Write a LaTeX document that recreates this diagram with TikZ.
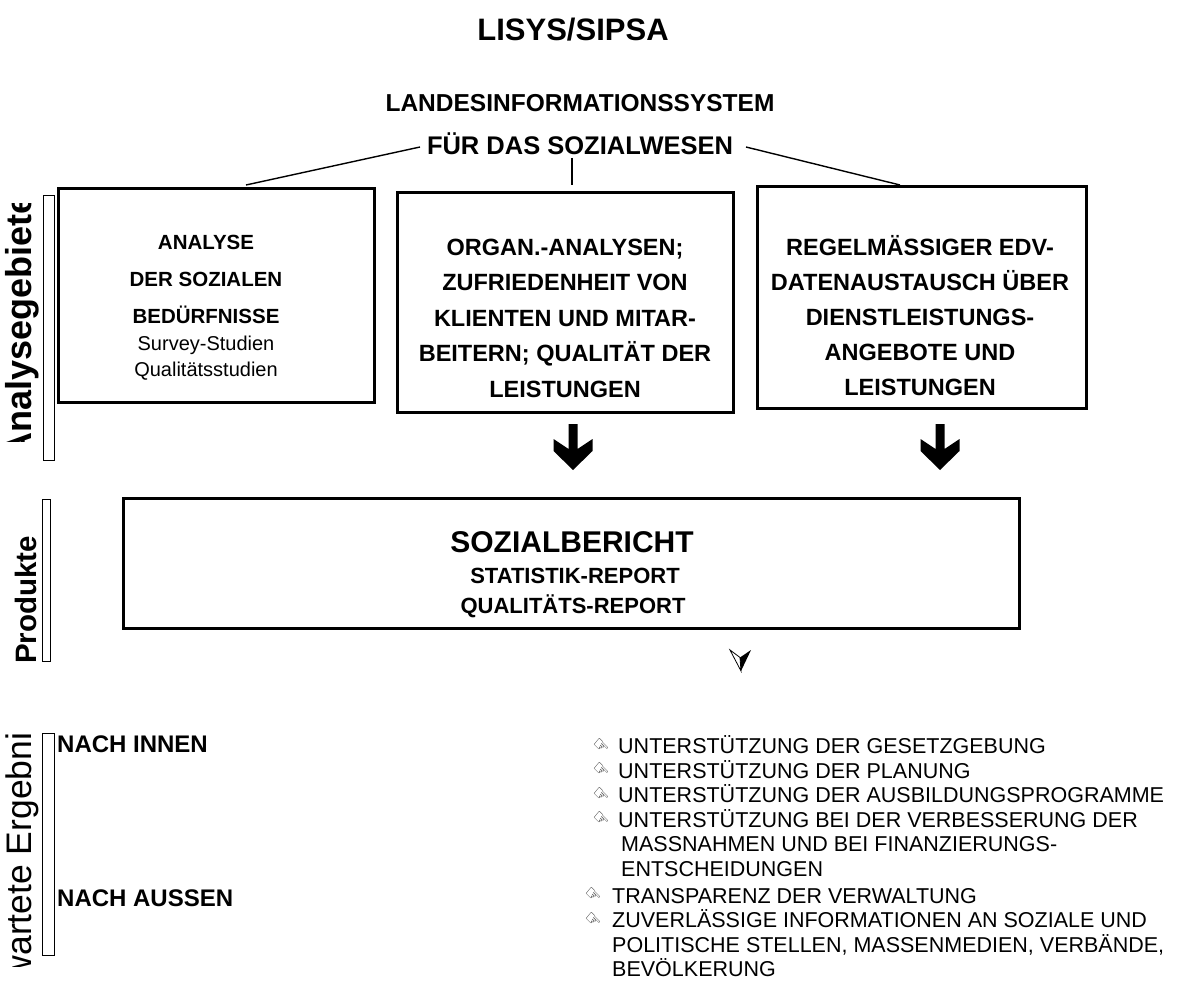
\documentclass[tikz,border=0pt]{standalone}
\usepackage{fontspec}
\setmainfont{Liberation Sans}
\newfontfamily\symfont{DejaVu Sans}
\begin{document}
\begin{tikzpicture}[x=1pt,y=-1pt,
  box/.style={draw,line width=2.6pt},
  thinrect/.style={draw,line width=1.2pt,inner sep=0pt},
  connector/.style={line width=1.4pt},
  boxa/.style={anchor=base,inner sep=0pt,font=\fontsize{20.5}{20.5}\selectfont\bfseries},
  boxs/.style={anchor=base,inner sep=0pt,font=\fontsize{20}{20}\selectfont},
  boxb/.style={anchor=base,inner sep=0pt,font=\fontsize{23.5}{23.5}\selectfont\bfseries},
  sidelabel/.style={rotate=90,anchor=base west,inner sep=0pt},
  listtext/.style={anchor=base west,inner sep=0pt,font=\fontsize{21.5}{21.5}\selectfont},
  headtext/.style={anchor=base west,inner sep=0pt,font=\fontsize{24}{24}\selectfont\bfseries},
  bullet/.style={anchor=center,inner sep=0pt,font=\fontsize{18}{18}\symfont}
]
\useasboundingbox (0,0) rectangle (1177,1008);
% Titles
\node[font=\fontsize{31}{31}\selectfont\bfseries,anchor=base] (t1) at (573,41) {LISYS/SIPSA};
\node[font=\fontsize{24.5}{24.5}\selectfont\bfseries,anchor=base] (t2) at (580,112) {LANDESINFORMATIONSSYSTEM};
\node[font=\fontsize{25.5}{25.5}\selectfont\bfseries,anchor=base] (t3) at (580,155) {FÜR DAS SOZIALWESEN};
\coordinate (c1) at (420,147);
\coordinate (c2) at (572,158);
\coordinate (c3) at (746,147);
% Boxes
\node[box,minimum width=316pt,minimum height=214pt,anchor=north west] (b1) at (57,187) {};
\node[box,minimum width=336pt,minimum height=220pt,anchor=north west] (b2) at (396,191) {};
\node[box,minimum width=329pt,minimum height=222pt,anchor=north west] (b3) at (756,185) {};
\draw[connector] (c1) -- (246,185);
\draw[connector] (c2) -- (572,185);
\draw[connector] (c3) -- (900,185);
\node[boxa] (b1a) at (206,250) {ANALYSE};
\node[boxa] (b1b) at (206,287) {DER SOZIALEN};
\node[boxa] (b1c) at (206,323) {BEDÜRFNISSE};
\node[boxs] (b1d) at (206,350) {Survey-Studien};
\node[boxs] (b1e) at (206,376) {Qualitätsstudien};
\foreach \t [count=\i from 0] in {ORGAN.-ANALYSEN;,ZUFRIEDENHEIT VON,KLIENTEN UND MITAR-,{BEITERN; QUALITÄT DER},LEISTUNGEN}{
  \node[boxb] (b2l\i) at (565,255+35.5*\i) {\t};
}
\foreach \t [count=\i from 0] in {REGELMÄSSIGER EDV-,DATENAUSTAUSCH ÜBER,DIENSTLEISTUNGS-,ANGEBOTE UND,LEISTUNGEN}{
  \node[boxb] (b3l\i) at (920,255+35*\i) {\t};
}
% side rectangles
\node[thinrect,minimum width=11pt,minimum height=265pt,anchor=north west] (r1) at (43,195) {};
\node[thinrect,minimum width=8pt,minimum height=162pt,anchor=south west] (r2) at (42,662) {};
\node[thinrect,minimum width=12pt,minimum height=222pt,anchor=north west] (r3) at (42,733) {};
\begin{scope}
\clip (0,204) rectangle (42,441);
\node[sidelabel,font=\fontsize{36}{36}\selectfont\bfseries] (l1) at (31,459) {Analysegebiete};
\end{scope}
\node[sidelabel,font=\fontsize{29.5}{29.5}\selectfont\bfseries] (l2) at (36,664) {Produkte};
\begin{scope}
\clip (0,734) rectangle (42,966);
\node[sidelabel,font=\fontsize{35.5}{35.5}\selectfont] (l3) at (31,1017) {Erwartete Ergebnisse};
\end{scope}
% big arrows
\foreach \cx/\nm in {573/a1,940/a2}{
  \fill (\cx-4.5,424) -- (\cx+4.5,424) -- (\cx+4.5,449) -- (\cx+19.5,439) -- (\cx+19.5,451) -- (\cx,470) -- (\cx-19.5,451) -- (\cx-19.5,439) -- (\cx-4.5,449) -- cycle;
  \coordinate (\nm) at (\cx,470);
}
% main box
\node[box,minimum width=896pt,minimum height=130pt,anchor=south west] (mb) at (122,630) {};
\node[font=\fontsize{30}{30}\selectfont\bfseries,anchor=base] (m1) at (572,552) {SOZIALBERICHT};
\node[font=\fontsize{22}{22}\selectfont\bfseries,anchor=base] (m2) at (575,583) {STATISTIK-REPORT};
\node[font=\fontsize{22}{22}\selectfont\bfseries,anchor=base] (m3) at (573,613) {QUALITÄTS-REPORT};
% small arrow
\coordinate (sa) at (740,660);
\draw[line width=0.8pt,fill=white] (730,650) -- (740,657.5) -- (741,671) -- cycle;
\fill (740,657.5) -- (751,650) -- (741,671) -- cycle;
% results
\node[headtext] (ni) at (57,752) {NACH INNEN};
\node[headtext] (na) at (57,906) {NACH AUSSEN};
\foreach \y in {753.5,778,802.5,827}{ \node[bullet] at (601,\y-7) {\rotatebox{-45}{☞}}; }
\foreach \y in {903,927.5}{ \node[bullet] at (593,\y-7) {\rotatebox{-45}{☞}}; }
\node[listtext] (i1) at (618,753.5) {UNTERSTÜTZUNG DER GESETZGEBUNG};
\node[listtext] (i2) at (618,778) {UNTERSTÜTZUNG DER PLANUNG};
\node[listtext] (i3) at (618,802.5) {UNTERSTÜTZUNG DER AUSBILDUNGSPROGRAMME};
\node[listtext] (i4) at (618,827) {UNTERSTÜTZUNG BEI DER VERBESSERUNG DER};
\node[listtext] (i5) at (621,851.5) {MASSNAHMEN UND BEI FINANZIERUNGS-};
\node[listtext] (i6) at (621,876) {ENTSCHEIDUNGEN};
\node[listtext] (o1) at (612,903) {TRANSPARENZ DER VERWALTUNG};
\node[listtext] (o2) at (612,927.5) {ZUVERLÄSSIGE INFORMATIONEN AN SOZIALE UND};
\node[listtext] (o3) at (612,952) {POLITISCHE STELLEN, MASSENMEDIEN, VERBÄNDE,};
\node[listtext] (o4) at (612,976.5) {BEVÖLKERUNG};
\end{tikzpicture}
\end{document}
